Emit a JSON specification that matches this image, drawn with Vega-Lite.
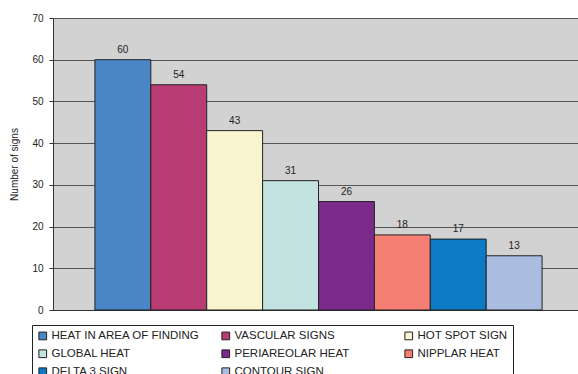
{
  "$schema": "https://vega.github.io/schema/vega-lite/v6.json",
  "width": 531,
  "height": 292,
  "autosize": "none",
  "padding": {"left": 53, "top": 18, "right": 0, "bottom": 64},
  "background": "white",
  "config": {
    "font": "Liberation Sans",
    "view": {"fill": "#D2D2D2", "stroke": null}
  },
  "data": {
    "values": [
      {"sign": "HEAT IN AREA OF FINDING", "count": 60},
      {"sign": "VASCULAR SIGNS", "count": 54},
      {"sign": "HOT SPOT SIGN", "count": 43},
      {"sign": "GLOBAL HEAT", "count": 31},
      {"sign": "PERIAREOLAR HEAT", "count": 26},
      {"sign": "NIPPLAR HEAT", "count": 18},
      {"sign": "DELTA 3 SIGN", "count": 17},
      {"sign": "CONTOUR SIGN", "count": 13}
    ]
  },
  "encoding": {
    "x": {
      "field": "sign", "type": "nominal", "sort": null,
      "scale": {"paddingInner": 0, "paddingOuter": 0.75},
      "axis": {"labels": false, "ticks": false, "title": null, "domain": true, "domainColor": "#333333", "domainWidth": 1}
    },
    "y": {
      "field": "count", "type": "quantitative",
      "scale": {"domain": [0, 70], "nice": false},
      "axis": {
        "values": [0, 10, 20, 30, 40, 50, 60, 70],
        "title": "Number of signs",
        "titleFont": "Liberation Sans", "titleFontSize": 10, "titleFontWeight": "normal", "titleColor": "#222222",
        "titlePadding": 12,
        "labelFont": "Liberation Sans", "labelFontSize": 10, "labelColor": "#222222",
        "labelPadding": 6,
        "tickSize": 4, "tickColor": "#333333",
        "domainColor": "#333333",
        "grid": true, "gridColor": "#555555", "gridWidth": 1, "gridOpacity": 1
      }
    }
  },
  "layer": [
    {
      "mark": {"type": "bar", "stroke": "#222222", "strokeWidth": 1},
      "encoding": {
        "color": {
          "field": "sign", "type": "nominal", "sort": null,
          "scale": {
            "domain": ["HEAT IN AREA OF FINDING", "VASCULAR SIGNS", "HOT SPOT SIGN", "GLOBAL HEAT", "PERIAREOLAR HEAT", "NIPPLAR HEAT", "DELTA 3 SIGN", "CONTOUR SIGN"],
            "range": ["#4A86C6", "#B83B74", "#FAF3CF", "#C3E3E0", "#7B2A8B", "#F57F72", "#0A7BC4", "#AABDE1"]
          },
          "legend": {
            "title": null,
            "orient": "none",
            "legendX": -21,
            "legendY": 307,
            "direction": "horizontal",
            "columns": 3,
            "gridAlign": "all",
            "columnPadding": 18,
            "rowPadding": 5,
            "symbolType": "square",
            "symbolSize": 60,
            "symbolStrokeColor": "#222222",
            "symbolStrokeWidth": 1,
            "symbolOpacity": 1,
            "labelFont": "Liberation Sans",
            "labelFontSize": 11.5,
            "labelColor": "#222222",
            "labelOffset": 3,
            "labelLimit": 200,
            "strokeColor": "#222222",
            "padding": 5,
            "fillColor": "white"
          }
        }
      }
    },
    {
      "mark": {"type": "text", "baseline": "bottom", "dy": -5, "fontSize": 10, "font": "Liberation Sans", "color": "#222222"},
      "encoding": {
        "text": {"field": "count", "type": "quantitative"}
      }
    }
  ]
}
